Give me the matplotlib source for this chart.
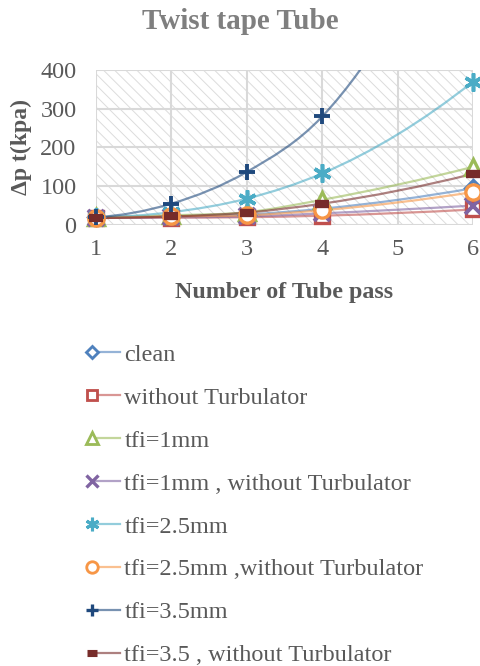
import matplotlib
matplotlib.use("Agg")
import matplotlib.pyplot as plt
from matplotlib.path import Path
from matplotlib.patches import PathPatch, Rectangle
from matplotlib.legend_handler import HandlerLine2D
from matplotlib.lines import Line2D
import numpy as np

# Tube passes and pressure drop (kPa) for each configuration
passes = [1, 2, 3, 4, 6]
clean = [20, 22, 27, 42, 95]
without_turb = [18, 19, 20, 24, 40]
tfi_1 = [20, 25, 33, 65, 150]
tfi_1_without = [18, 20, 22, 30, 50]
tfi_25 = [20, 33, 68, 133, 370]
tfi_25_without = [18, 22, 25, 38, 85]
tfi_35 = [20, 55, 137, 280, 950]
tfi_35_without = [18, 22, 32, 55, 132]

labels = ["clean", "without Turbulator", "tfi=1mm", "tfi=1mm , without Turbulator",
          "tfi=2.5mm", "tfi=2.5mm ,without Turbulator", "tfi=3.5mm",
          "tfi=3.5 , without Turbulator"]
series = [clean, without_turb, tfi_1, tfi_1_without, tfi_25, tfi_25_without,
          tfi_35, tfi_35_without]
colors = ["#4F81BD", "#C0504D", "#9BBB59", "#8064A2", "#4BACC6", "#F79646",
          "#1F497D", "#772C2A"]
markers = ["D", "s", "^", "x", (6, 2, 0), "o", "+", "_"]

GRAY = "#595959"
plt.rcParams["font.family"] = ["Liberation Serif", "DejaVu Serif"]
plt.rcParams["hatch.linewidth"] = 0.7

fig = plt.figure(figsize=(4.81, 6.66), dpi=100)
ax = fig.add_axes([0.1996, 0.6622, 0.7838, 0.2327])
ax.set_xlim(1, 6)
ax.set_ylim(0, 400)
ax.patch.set_facecolor("white")
ax.add_patch(Rectangle((0, 0), 1, 1, transform=ax.transAxes, facecolor="white",
                       edgecolor="#dcdcdc", linewidth=0, hatch="\\\\\\",
                       zorder=0.1))
for s in ax.spines.values():
    s.set_visible(False)
ax.set_xticks([1, 2, 3, 4, 5, 6])
ax.set_yticks([0, 100, 200, 300, 400])
ax.grid(True, color="#d9d9d9", linewidth=1.5)
ax.set_axisbelow(True)
ax.tick_params(length=0, labelsize=17.5, labelcolor=GRAY)
ax.tick_params(axis="x", pad=10)
ax.tick_params(axis="y", pad=14)


def smooth_path(xs, ys):
    """Piecewise cubic Hermite curve through the points, as Bezier segments."""
    x = np.asarray(xs, float)
    y = np.asarray(ys, float)
    n = len(x)
    h = np.diff(x)
    d = np.diff(y) / h
    m = np.empty(n)
    for i in range(1, n - 1):
        m[i] = (d[i - 1] * h[i] + d[i] * h[i - 1]) / (h[i - 1] + h[i])
    m[0] = 2 * d[0] - m[1]
    m[-1] = 2 * d[-1] - m[-2]
    verts = [(x[0], y[0])]
    codes = [Path.MOVETO]
    for i in range(n - 1):
        c1 = (x[i] + h[i] / 3, y[i] + m[i] * h[i] / 3)
        c2 = (x[i + 1] - h[i] / 3, y[i + 1] - m[i + 1] * h[i] / 3)
        verts += [c1, c2, (x[i + 1], y[i + 1])]
        codes += [Path.CURVE4] * 3
    return Path(verts, codes)


def marker_style(mk):
    ms, mew = 11, 2.4
    if mk == "D":
        ms = 8
    if mk == "s":
        ms = 10.5
    if mk in ("+", "x"):
        ms, mew = 11, 2.8
    if mk == (6, 2, 0):
        ms, mew = 13, 2.6
    if mk == "_":
        ms, mew = 10, 6
    return ms, mew


handles = []
for ys, col, mk in zip(series, colors, markers):
    ax.add_patch(PathPatch(smooth_path(passes, ys), facecolor="none",
                           edgecolor=col, alpha=0.6, linewidth=1.6, zorder=2))
    ms, mew = marker_style(mk)
    face = col if mk == "_" else "white"
    ax.plot(passes, ys, linestyle="none", marker=mk, markersize=ms,
            markerfacecolor=face, markeredgecolor=col, markeredgewidth=mew,
            clip_on=False, zorder=3)
    handles.append(Line2D([], [], color=col, linewidth=1.6, marker=mk,
                          markersize=ms * 0.75, markerfacecolor="white",
                          markeredgecolor=col, markeredgewidth=mew * 0.85))


class LeftMarkerHandler(HandlerLine2D):
    """Legend entry with the marker sitting at the left end of the line."""

    def create_artists(self, legend, orig_handle, xdescent, ydescent, width,
                       height, fontsize, trans):
        x0 = -xdescent
        y0 = height / 2 - ydescent
        line = Line2D([x0, x0 + width], [y0, y0], color=orig_handle.get_color(),
                      linewidth=1.6, alpha=0.6, transform=trans)
        mark = Line2D([x0], [y0], linestyle="none",
                      marker=orig_handle.get_marker(),
                      markersize=orig_handle.get_markersize(),
                      markerfacecolor="white",
                      markeredgecolor=orig_handle.get_markeredgecolor(),
                      markeredgewidth=orig_handle.get_markeredgewidth(),
                      transform=trans)
        return [line, mark]


ax.set_xlabel("Number of Tube pass", fontsize=17.3, fontweight="bold",
              color=GRAY, labelpad=16)
ax.set_ylabel("\u0394p t(kpa)", fontsize=17, fontweight="bold", color=GRAY,
              labelpad=6)
fig.text(0.5, 0.968, "Twist tape Tube", ha="center", va="center", fontsize=21,
         fontweight="bold", color="#7f7f7f")

handler = LeftMarkerHandler()
leg = fig.legend(handles=handles, labels=labels, loc="upper left",
                 bbox_to_anchor=(0.146, 0.5165), frameon=False, fontsize=17.5,
                 handlelength=1.15, handletextpad=0.18, labelspacing=0.86,
                 labelcolor=GRAY, handler_map={Line2D: handler})

fig.savefig("out.png", dpi=100)
